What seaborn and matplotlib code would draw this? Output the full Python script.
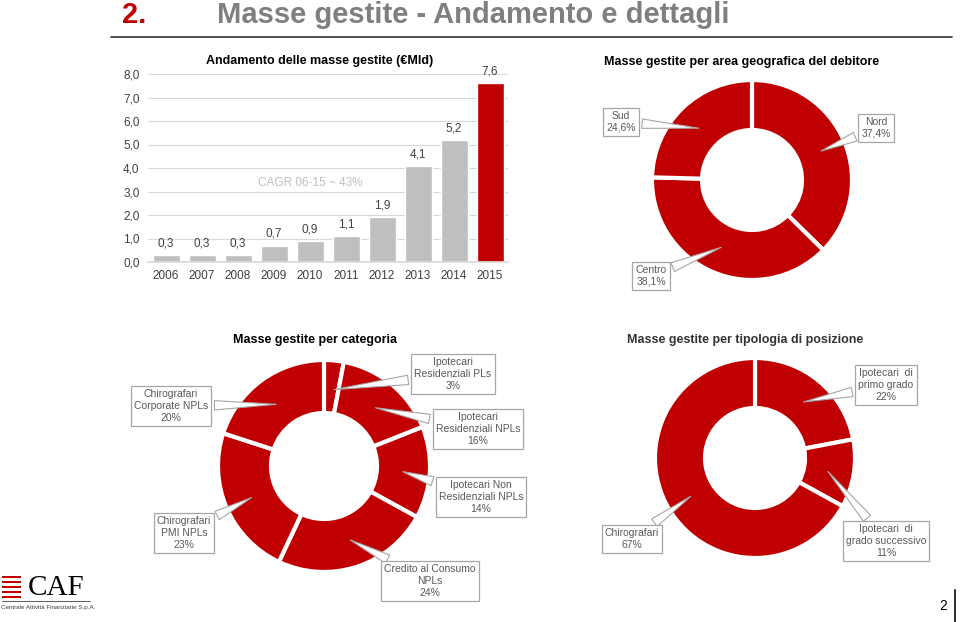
import matplotlib
matplotlib.use("Agg")
import matplotlib.pyplot as plt
from matplotlib.lines import Line2D
from matplotlib.patches import Rectangle
import numpy as np
import pandas as pd
import seaborn as sns

# data
years = ["2006", "2007", "2008", "2009", "2010", "2011", "2012", "2013", "2014", "2015"]
masse = [0.3, 0.3, 0.3, 0.7, 0.9, 1.1, 1.9, 4.1, 5.2, 7.6]
cagr_text = "CAGR 06-15 ~ 43%"

geo_labels = ["Nord\n37,4%", "Centro\n38,1%", "Sud\n24,6%"]
geo_values = [37.4, 38.1, 24.6]

cat_labels = ["Ipotecari\nResidenziali PLs\n3%", "Ipotecari\nResidenziali NPLs\n16%",
              "Ipotecari Non\nResidenziali NPLs\n14%", "Credito al Consumo\nNPLs\n24%",
              "Chirografari\nPMI NPLs\n23%", "Chirografari\nCorporate NPLs\n20%"]
cat_values = [3, 16, 14, 24, 23, 20]

tip_labels = ["Ipotecari  di\nprimo grado\n22%", "Ipotecari  di\ngrado successivo\n11%",
              "Chirografari\n67%"]
tip_values = [22, 11, 67]

RED = "#C00000"
GREY_BAR = "#BFBFBF"
BOX_EC = "#A6A6A6"
TXT = "#595959"

W, H = 960, 622

sns.set_theme(style="white")
plt.rcParams["font.family"] = ["Liberation Sans", "DejaVu Sans"]

fig = plt.figure(figsize=(W / 100, H / 100), dpi=100)


def px_axes(x0, y0, x1, y1):
    return fig.add_axes([x0 / W, 1 - y1 / H, (x1 - x0) / W, (y1 - y0) / H])


def fx(x):
    return x / W


def fy(y):
    return 1 - y / H


def comma(v):
    return f"{v:.1f}".replace(".", ",")


# header
fig.text(fx(122), fy(15), "2.", color=RED, fontsize=21, fontweight="bold", va="center")
fig.text(fx(217), fy(15), "Masse gestite - Andamento e dettagli", color="#7F7F7F",
         fontsize=21, fontweight="bold", va="center")
fig.add_artist(Line2D([fx(111), fx(952)], [fy(37), fy(37)], transform=fig.transFigure,
                      color="#333333", lw=1.2))

# bar chart
ax = px_axes(148, 74, 508, 262)
df = pd.DataFrame({"anno": years, "masse": masse})
colors = [GREY_BAR] * (len(years) - 1) + [RED]
sns.barplot(data=df, x="anno", y="masse", hue="anno", palette=colors, legend=False,
            width=0.75, saturation=1, ax=ax)
ax.set_ylim(0, 8)
ax.set_xlim(-0.5, len(years) - 0.5)
ax.set_yticks(np.arange(0, 9, 1))
ax.set_yticklabels([comma(v) for v in np.arange(0, 9, 1)])
ax.yaxis.grid(True, color="#D9D9D9", lw=0.8)
ax.set_axisbelow(True)
for s in ["left", "right", "top"]:
    ax.spines[s].set_visible(False)
ax.spines["bottom"].set_color("#D9D9D9")
ax.tick_params(axis="both", labelsize=8.5, colors="#404040", length=0, pad=6)
ax.set_xlabel("")
ax.set_ylabel("")
for c in ax.containers:
    ax.bar_label(c, labels=[comma(v) for v in c.datavalues], padding=4, fontsize=8.5,
                 color="#404040")
ax.text(4.0, 3.35, cagr_text, color="#BFBFBF", fontsize=8.5, ha="center", va="center")
fig.text(fx(320), fy(61), "Andamento delle masse gestite (€Mld)", fontsize=9,
         fontweight="bold", ha="center", va="center", color="black")


def donut(cx, cy, r, values, labels, text_pos, title, title_xy, title_color="black"):
    a = px_axes(cx - r, cy - r, cx + r, cy + r)
    a.pie(values, startangle=90, counterclock=False, colors=[RED] * len(values),
          wedgeprops=dict(width=0.5, edgecolor="white", linewidth=3))
    a.set_xlim(-1, 1)
    a.set_ylim(-1, 1)
    a.set_aspect("equal")
    a.axis("off")
    total = sum(values)
    cum = 0
    for v, lab, (tx, ty) in zip(values, labels, text_pos):
        mid = np.deg2rad(90 - 360 * (cum + v / 2) / total)
        cum += v
        a.annotate(lab, xy=(0.72 * np.cos(mid), 0.72 * np.sin(mid)), xycoords="data",
                   xytext=(tx, H - ty), textcoords="figure pixels",
                   ha="center", va="center", fontsize=7.5, color=TXT, linespacing=1.25,
                   bbox=dict(boxstyle="square,pad=0.3", fc="white", ec=BOX_EC, lw=0.9),
                   arrowprops=dict(arrowstyle="wedge,tail_width=0.9,shrink_factor=0.5",
                                   fc="white", ec=BOX_EC, lw=0.8),
                   annotation_clip=False)
    fig.text(fx(title_xy[0]), fy(title_xy[1]), title, fontsize=9, fontweight="bold",
             ha="center", va="center", color=title_color)


donut(752, 180, 100, geo_values, geo_labels,
      [(876, 128), (651, 276), (621, 122)],
      "Masse gestite per area geografica del debitore", (742, 62))

donut(324, 466, 106, cat_values, cat_labels,
      [(453, 374), (478, 429), (481, 497), (430, 581), (184, 533), (171, 406)],
      "Masse gestite per categoria", (315, 340))

donut(755, 458, 100, tip_values, tip_labels,
      [(886, 385), (886, 541), (632, 539)],
      "Masse gestite per tipologia di posizione", (745, 340), title_color="#333333")

# footer: logo and page number
for i in range(5):
    fig.add_artist(Rectangle((fx(2), fy(578 + i * 5)), fx(21) - fx(2), 2.2 / H,
                             transform=fig.transFigure, color=RED, lw=0))
fig.text(fx(28), fy(588), "CAF", family=["Liberation Serif", "DejaVu Serif"],
         fontsize=21, color="black", va="center")
fig.add_artist(Line2D([fx(2), fx(90)], [fy(601), fy(601)], transform=fig.transFigure,
                      color="#404040", lw=0.6))
fig.text(fx(1), fy(607), "Centrale Attività Finanziarie S.p.A.", fontsize=4.5,
         color="#404040", va="center")
fig.text(fx(943), fy(606), "2", fontsize=10, color="black", ha="center", va="center")
fig.add_artist(Line2D([fx(955), fx(955)], [fy(590), fy(622)], transform=fig.transFigure,
                      color="#333333", lw=1.5))

fig.savefig("out.png", dpi=100)
